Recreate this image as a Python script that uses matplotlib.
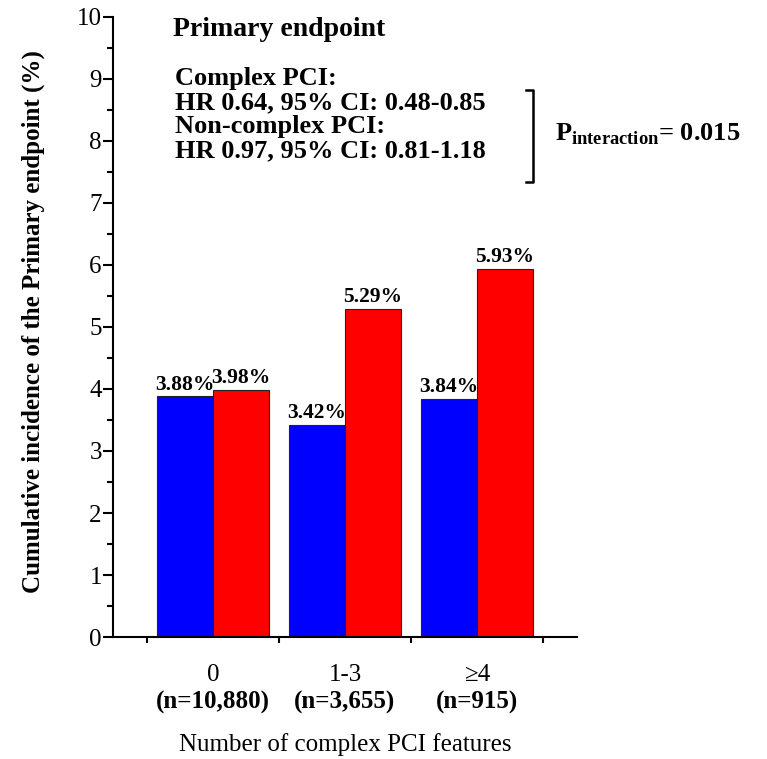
import numpy as np
import matplotlib.pyplot as plt
from matplotlib.ticker import MultipleLocator

plt.rcParams['font.family'] = ['Liberation Serif', 'DejaVu Serif']
plt.rcParams['mathtext.fontset'] = 'custom'
plt.rcParams['mathtext.rm'] = 'Liberation Serif'
plt.rcParams['mathtext.bf'] = 'Liberation Serif:bold'

groups = ['0', '1-3', '\u22654']
group_n = ['(n=10,880)', '(n=3,655)', '(n=915)']
blue_vals = [3.88, 3.42, 3.84]
red_vals = [3.98, 5.29, 5.93]

fig = plt.figure(figsize=(7.67, 7.59), dpi=100)
ax = fig.add_axes([0.1473, 0.1607, 0.605, 0.817])

x = np.arange(len(groups))
w = 0.424
b1 = ax.bar(x - w/2, blue_vals, w, color='#0000ff', edgecolor='#222222', linewidth=0.8)
b2 = ax.bar(x + w/2, red_vals, w, color='#ff0000', edgecolor='#222222', linewidth=0.8)

for bars, vals in [(b1, blue_vals), (b2, red_vals)]:
    for b, v in zip(bars, vals):
        ax.text(b.get_x() + b.get_width()/2, v + 0.03, '%.2f%%' % v,
                ha='center', va='bottom', fontsize=15.5, fontweight='bold')

ax.set_xlim(-0.758, 2.758)
ax.set_ylim(0, 10)
ax.spines['top'].set_visible(False)
ax.spines['right'].set_visible(False)
for s in ['left', 'bottom']:
    ax.spines[s].set_linewidth(1.5)

ax.yaxis.set_major_locator(MultipleLocator(1))
ax.yaxis.set_minor_locator(MultipleLocator(0.5))
ax.tick_params(axis='y', which='major', length=7, width=1.5, pad=1, labelsize=18)
ax.tick_params(axis='y', which='minor', length=4.3, width=1.5)
ax.set_xticks([-0.5, 0.5, 1.5, 2.5])
ax.set_xticklabels([])
ax.tick_params(axis='x', which='major', length=4.3, width=1.5)

trans = ax.get_xaxis_transform()
for i in range(len(groups)):
    ax.text(x[i], -0.061, groups[i], transform=trans, ha='center', va='center', fontsize=18)
    ax.text(x[i], -0.106, group_n[i], transform=trans, ha='center', va='center',
            fontsize=18, fontweight='bold')
ax.text(1.0, -0.174, 'Number of complex PCI features', transform=trans,
        ha='center', va='center', fontsize=18)

ax.set_ylabel('Cumulative incidence of the Primary endpoint (%)', fontsize=18, fontweight='bold')
ax.yaxis.set_label_coords(-0.147, 0.508)

ax.text(-0.30, 9.79, 'Primary endpoint', ha='left', va='center', fontsize=20, fontweight='bold')
lines = ['Complex PCI:', 'HR 0.64, 95% CI: 0.48-0.85',
         'Non-complex PCI:', 'HR 0.97, 95% CI: 0.81-1.18']
ys = [9.0, 8.62, 8.24, 7.84]
for t, yy in zip(lines, ys):
    ax.text(-0.288, yy, t, ha='left', va='center', fontsize=19, fontweight='bold')

bx, by0, by1 = 2.424, 7.34, 8.82
ax.plot([bx - 0.053, bx, bx, bx - 0.053], [by1, by1, by0, by0], color='black',
        linewidth=1.8, clip_on=False)
ax.text(2.59, 8.10, r'$\mathbf{P}_{\mathbf{interaction}}$= 0.015', ha='left', va='center',
        fontsize=19, fontweight='bold', clip_on=False)

fig.savefig('out.png', dpi=100)
